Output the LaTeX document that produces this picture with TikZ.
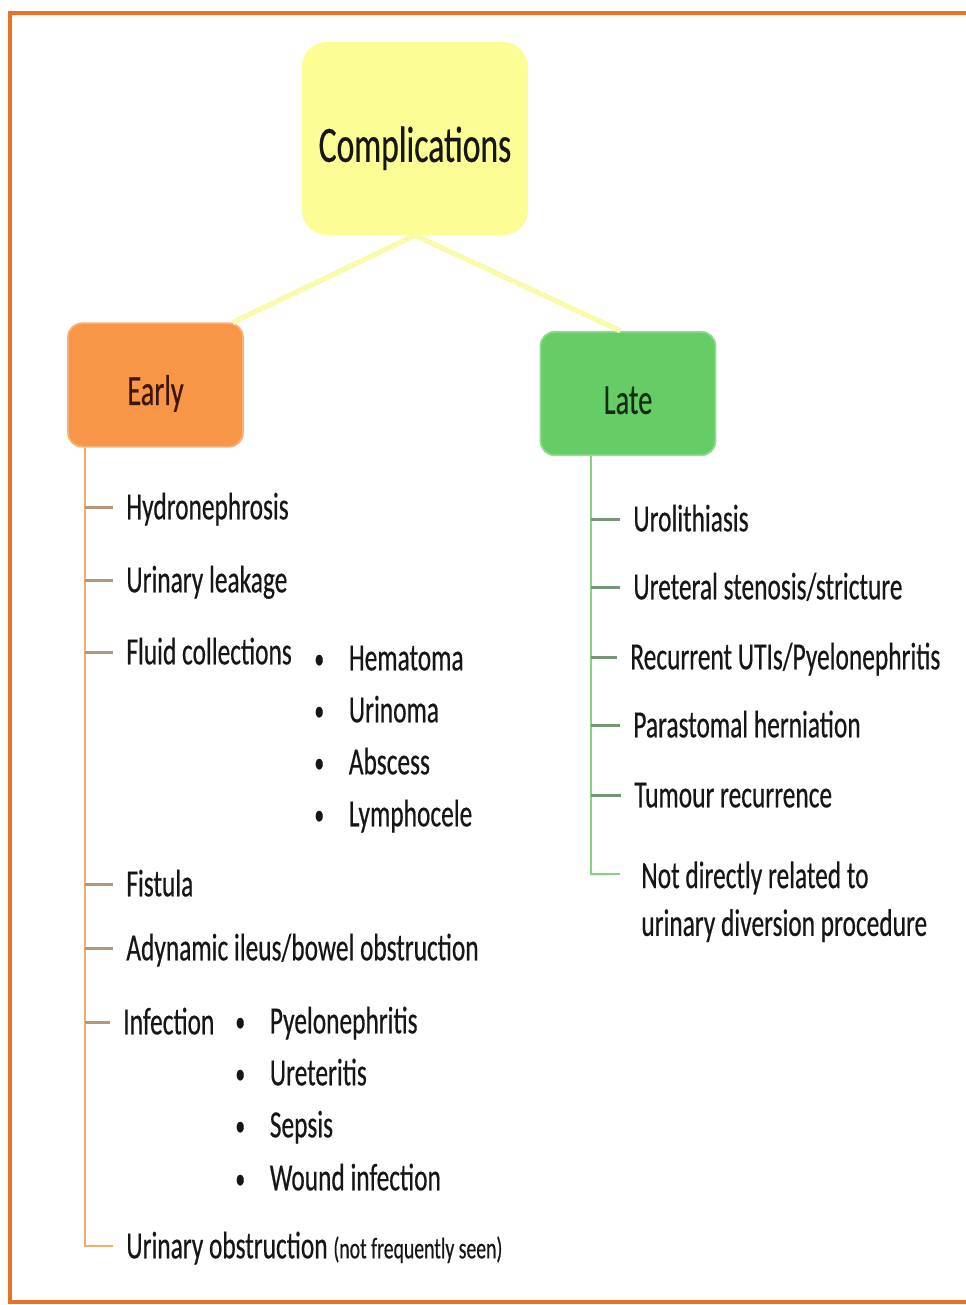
\documentclass[tikz,border=0pt]{standalone}
\usepackage{fontspec}
\setmainfont{Carlito}[FakeStretch=0.66, FakeBold=0.4]
\usetikzlibrary{positioning}
\definecolor{frameorange}{RGB}{234,113,37}
\definecolor{rootyellow}{RGB}{253,253,150}
\definecolor{earlyorange}{RGB}{247,150,70}
\definecolor{lategreen}{RGB}{102,204,102}
\definecolor{linkyellow}{RGB}{250,250,172}
\definecolor{earlyline}{RGB}{243,172,108}
\definecolor{earlytick}{RGB}{182,152,118}
\definecolor{lateline}{RGB}{132,210,132}
\definecolor{latetick}{RGB}{118,148,118}
\definecolor{inktext}{RGB}{22,22,22}
\newcommand{\dotmark}{\makebox[0.69cm][l]{\raisebox{1pt}{\fontsize{17}{17}\selectfont\textbullet}}}

\begin{document}
\begin{tikzpicture}[x=0.02cm, y=-0.02cm,
  rootbox/.style={fill=rootyellow, rounded corners=14pt, minimum width=4.52cm, minimum height=3.86cm, inner sep=0pt, text height=26.6pt, text depth=0pt, font=\fontsize{29}{34}\selectfont, text=inktext},
  phasebox/.style={rounded corners=8pt, line width=1pt, minimum width=3.5cm, minimum height=2.47cm, inner sep=0pt, text depth=0pt, font=\fontsize{24.5}{29}\selectfont},
  item/.style={anchor=west, inner xsep=0.26cm, inner ysep=0pt, text height=14pt, text depth=0pt, font=\fontsize{21.9}{27}\selectfont, text=inktext},
  subitem/.style={item, inner xsep=0pt},
  link/.style={draw=linkyellow, line width=3pt},
  earlyrule/.style={draw=earlyline, line width=1.4pt},
  earlytickline/.style={draw=earlytick, line width=1.7pt},
  laterule/.style={draw=lateline, line width=1.4pt},
  latetickline/.style={draw=latetick, line width=1.7pt},
  frameline/.style={draw=frameorange, line width=2.6pt}
]
\useasboundingbox (0,0) rectangle (965,1305);
\draw[frameline] (980,13) -- (10,13) -- (10,1302) -- (980,1302);

\node[rootbox] (root) at (415,138.5) {Complications};
\node[phasebox, fill=earlyorange, draw=earlyorange!75!white, text height=22.7pt, text={rgb,255:red,60;green,22;blue,10}] (early) at (155.5,385) {Early};
\node[phasebox, fill=lategreen, draw=lategreen!70!white, text height=23.2pt, text={rgb,255:red,18;green,45;blue,18}] (late) at (628,393.5) {Late};

\draw[link] (root.south) -- (early.39);
\draw[link] (root.south) -- (late.97);

% early complications
\node[item] (hydro) at (113,507) {Hydronephrosis};
\node[item] (leak) at (113,580) {Urinary leakage};
\node[item] (fluid) at (113,652) {Fluid collections};
\node[item] (fist) at (113,884) {Fistula};
\node[item] (ileus) at (113,948) {Adynamic ileus/bowel obstruction};
\node[item] (infect) at (110,1022) {Infection};
\node[item] (uobs) at (113,1246) {Urinary obstruction {\fontsize{17}{20}\selectfont(not frequently seen)}};

\node[subitem] (hema) at (314,658) {\dotmark Hematoma};
\node[subitem] (urin) at (314,710) {\dotmark Urinoma};
\node[subitem] (absc) at (314,762) {\dotmark Abscess};
\node[subitem] (lymph) at (314,814) {\dotmark Lymphocele};

\node[subitem] (pyelo) at (235,1021) {\dotmark Pyelonephritis};
\node[subitem] (uret) at (235,1073) {\dotmark Ureteritis};
\node[subitem] (seps) at (235,1125) {\dotmark Sepsis};
\node[subitem] (wound) at (235,1178) {\dotmark Wound infection};

\coordinate (espine) at (early.south -| 85,0);
\draw[earlyrule] (espine) |- (uobs.west);
\foreach \n in {hydro,leak,fluid,fist,ileus,infect}
  \draw[earlytickline] (espine |- \n.west) -- (\n.west);

% late complications
\node[item] (uro) at (620,519) {Urolithiasis};
\node[item] (stric) at (620,587) {Ureteral stenosis/stricture};
\node[item] (recur) at (617,657) {Recurrent UTIs/Pyelonephritis};
\node[item] (para) at (620,725) {Parastomal herniation};
\node[item] (tumour) at (621,795) {Tumour recurrence};
\node[anchor=north west, inner sep=0pt, align=left, font=\fontsize{21.9}{27.2}\selectfont, text=inktext] (notdir) at (641,861) {Not directly related to\\urinary diversion procedure};

\coordinate (lspine) at (late.south -| 591,0);
\draw[laterule] (lspine) |- ([xshift=-0.42cm,yshift=-0.26cm]notdir.north west);
\foreach \n in {uro,stric,recur,para,tumour}
  \draw[latetickline] (lspine |- \n.west) -- (\n.west);
\end{tikzpicture}
\end{document}
